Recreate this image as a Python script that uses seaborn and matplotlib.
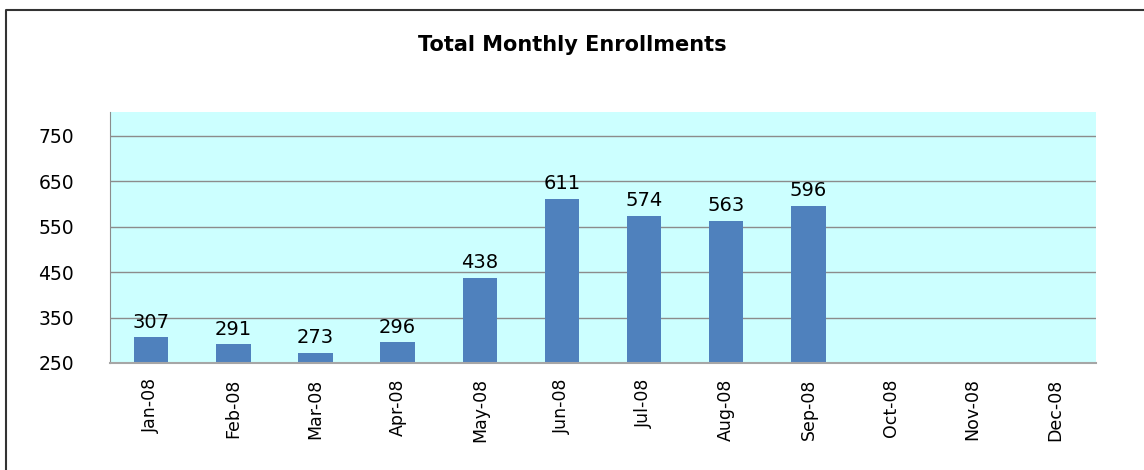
import numpy as np
import pandas as pd
import matplotlib
matplotlib.use("Agg")
import matplotlib.pyplot as plt
import seaborn as sns
from matplotlib.lines import Line2D

# ----------------------------------------------------------
# Data
# ----------------------------------------------------------
months = ["Jan-08", "Feb-08", "Mar-08", "Apr-08", "May-08", "Jun-08",
          "Jul-08", "Aug-08", "Sep-08", "Oct-08", "Nov-08", "Dec-08"]
enrollments = [307, 291, 273, 296, 438, 611, 574, 563, 596,
               np.nan, np.nan, np.nan]
y_ticks = [250, 350, 450, 550, 650, 750]

df = pd.DataFrame({"month": months, "enrollments": enrollments})

# ----------------------------------------------------------
# Plot
# ----------------------------------------------------------
sns.set_style("white")
plt.rcParams["font.family"] = ["DejaVu Sans"]
plt.rcParams["text.color"] = "black"
plt.rcParams["xtick.color"] = "black"
plt.rcParams["ytick.color"] = "black"

fig = plt.figure(figsize=(11.44, 4.70), dpi=100)
ax = fig.add_axes([0.0962, 0.2277, 0.8618, 0.534])

sns.barplot(data=df, x="month", y="enrollments", order=months,
            color="#4F81BD", saturation=1, width=0.42, linewidth=0, ax=ax)

ax.set_facecolor("#CCFFFF")
ax.set_ylim(250, 802)
ax.set_yticks(y_ticks)
ax.grid(axis="y", color="#8C8C8C", linewidth=1.0)
ax.set_axisbelow(True)

for s in ["top", "right"]:
    ax.spines[s].set_visible(False)
ax.spines["left"].set_color("#8C8C8C")
ax.spines["bottom"].set_color("#A6A6A6")
ax.spines["bottom"].set_linewidth(1.5)

ax.set_xlabel("")
ax.set_ylabel("")
ax.tick_params(axis="y", labelsize=13.5, length=0, pad=26)
ax.tick_params(axis="x", labelsize=12.5, length=0, pad=11, rotation=90)

for c in ax.containers:
    ax.bar_label(c, fmt="%d", padding=4, fontsize=14)

fig.text(0.5, 0.904, "Total Monthly Enrollments", ha="center", va="center",
         fontsize=15, fontweight="bold")

# outer chart border (only left and top edges fall inside the picture)
bx = 6 / 1144
by = 1 - 10 / 470
fig.add_artist(Line2D([bx, bx, 1.0], [0.0, by, by], transform=fig.transFigure,
                      color="#333333", linewidth=1.5))

plt.savefig("out.png", dpi=100)
